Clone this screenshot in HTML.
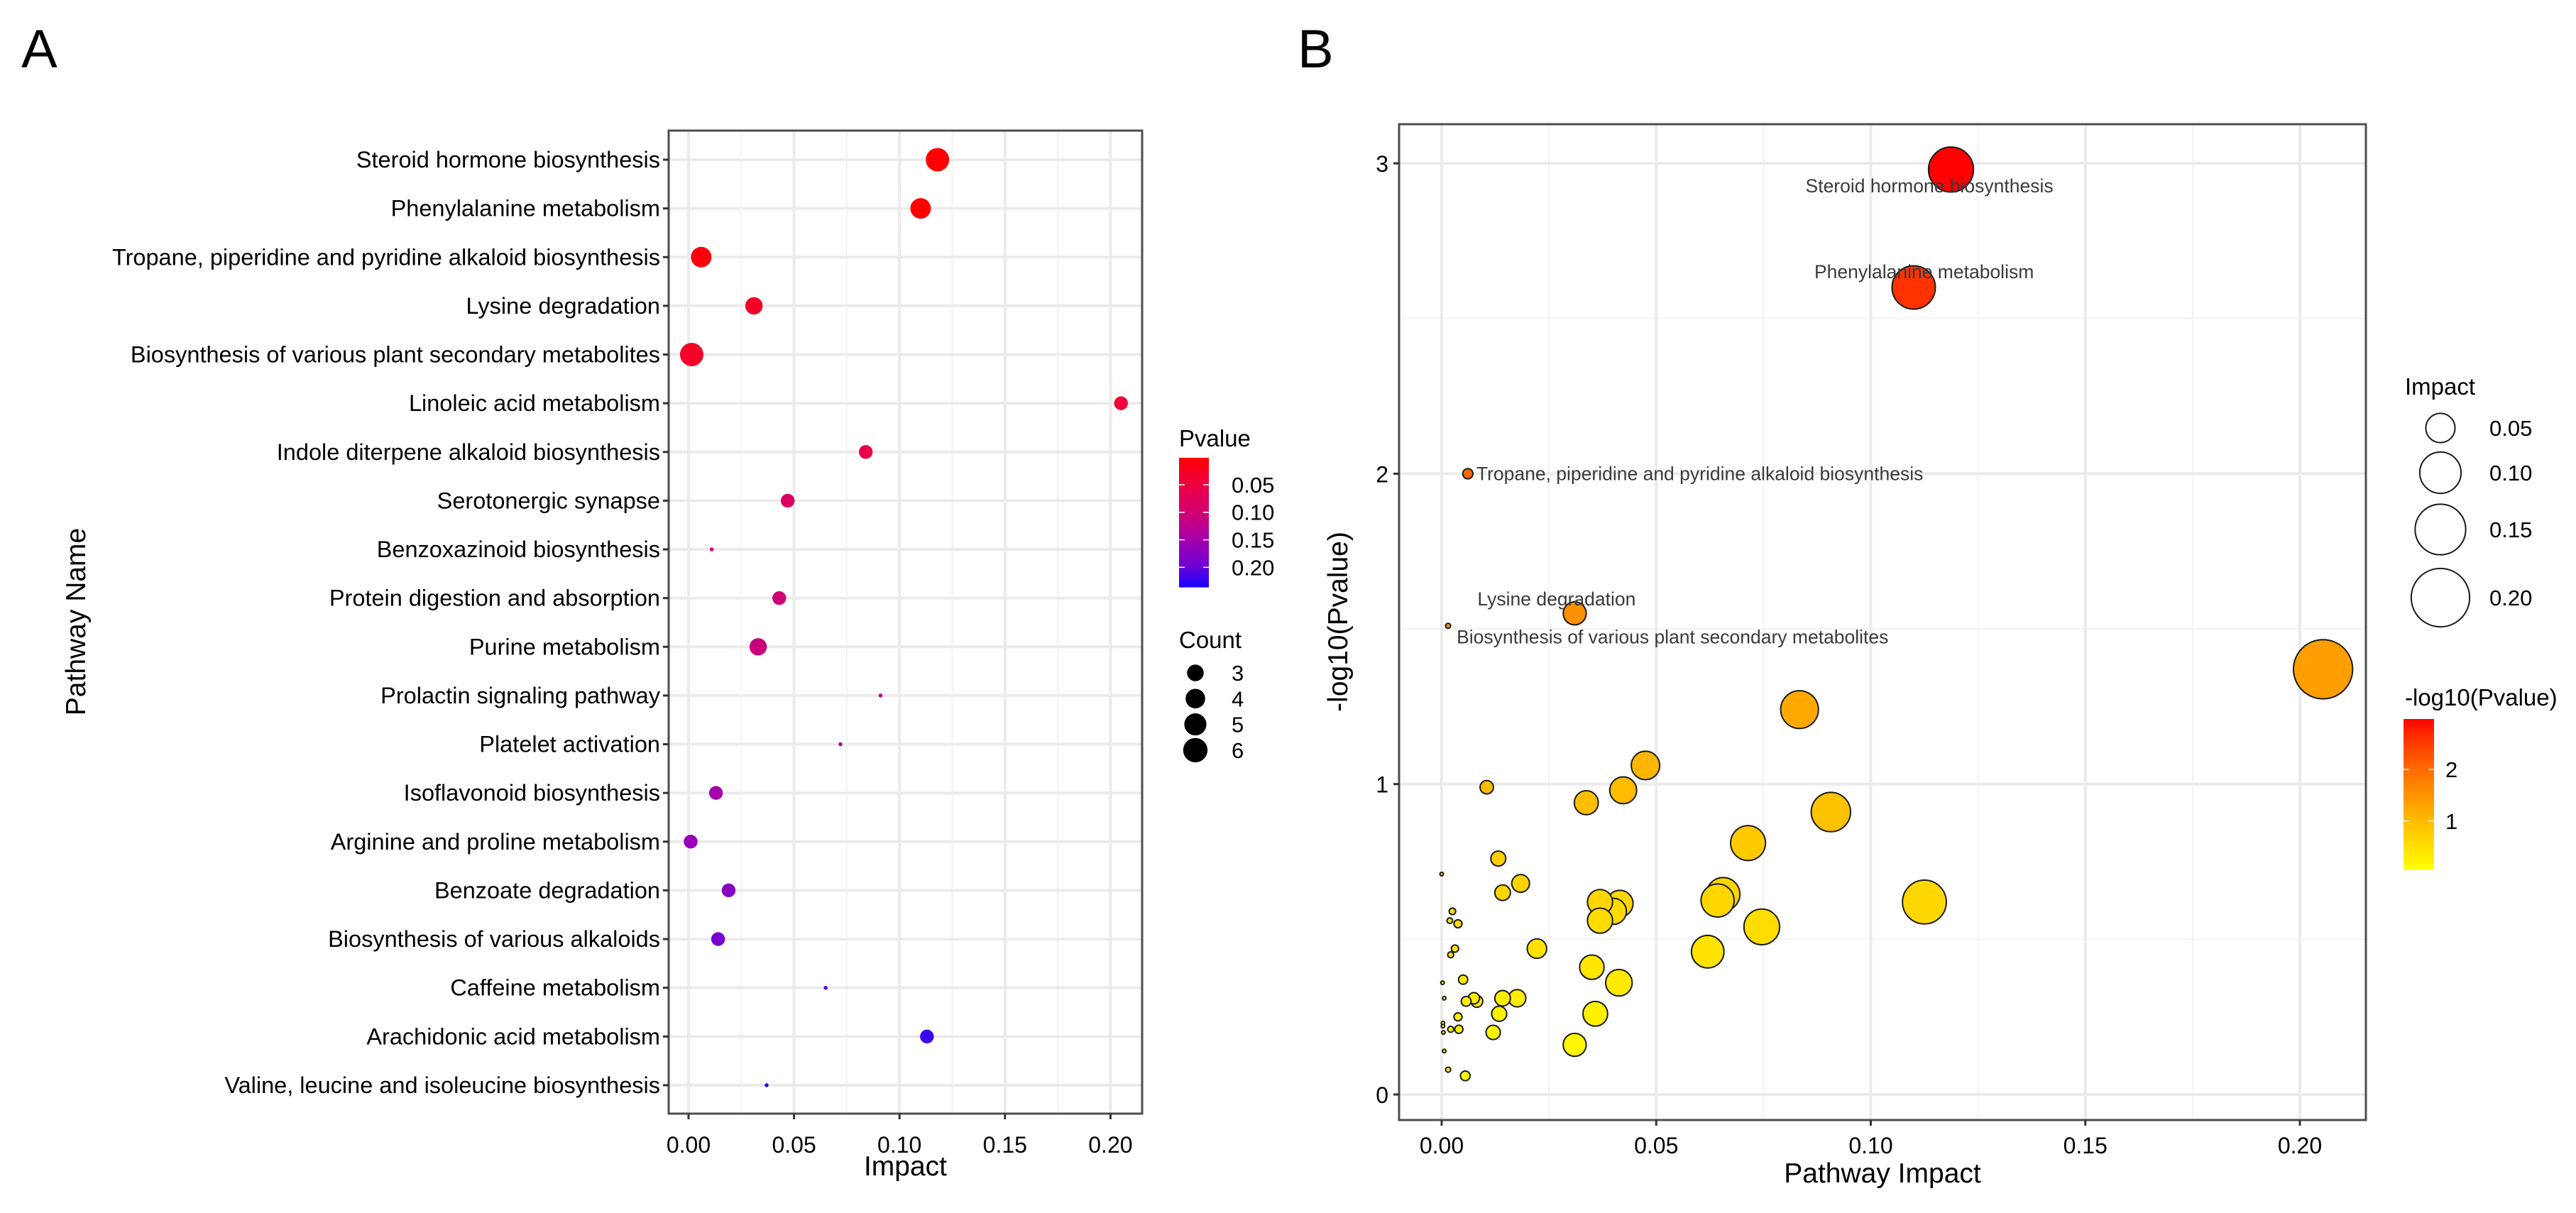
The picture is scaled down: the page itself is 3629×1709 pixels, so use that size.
<!DOCTYPE html>
<html><head><meta charset="utf-8"><style>
html,body{margin:0;padding:0;background:#fff;}
svg{display:block;font-family:"Liberation Sans",Arial,sans-serif;}
</style></head><body>
<svg id="fig" width="3629" height="1709" viewBox="0 0 3629 1709" xmlns="http://www.w3.org/2000/svg">
<rect width="3629" height="1709" fill="#fff"/>
<text x="30" y="95" font-size="76" fill="#000">A</text>
<text x="1828" y="95" font-size="76" fill="#000">B</text>
<g id="gA"></g>
<g id="gB"></g>
</svg>
<script>
// ---------- Panel A data ----------
const pathwaysA = ["Steroid hormone biosynthesis","Phenylalanine metabolism","Tropane, piperidine and pyridine alkaloid biosynthesis","Lysine degradation","Biosynthesis of various plant secondary metabolites","Linoleic acid metabolism","Indole diterpene alkaloid biosynthesis","Serotonergic synapse","Benzoxazinoid biosynthesis","Protein digestion and absorption","Purine metabolism","Prolactin signaling pathway","Platelet activation","Isoflavonoid biosynthesis","Arginine and proline metabolism","Benzoate degradation","Biosynthesis of various alkaloids","Caffeine metabolism","Arachidonic acid metabolism","Valine, leucine and isoleucine biosynthesis"];
const impactA = [0.118,0.110,0.006,0.031,0.0015,0.205,0.084,0.047,0.011,0.043,0.033,0.091,0.072,0.013,0.001,0.019,0.014,0.065,0.113,0.037];
const pvalueA = [0.00105,0.0025,0.0100,0.028,0.031,0.043,0.058,0.085,0.100,0.105,0.110,0.122,0.135,0.150,0.162,0.175,0.190,0.205,0.220,0.2357];
const countA = [6,5,5,4,6,3,3,3,1,3,4,1,1,3,3,3,3,1,3,1];
const xTicksA = [0,0.05,0.10,0.15,0.20];
const xTickLabelsA = ["0.00","0.05","0.10","0.15","0.20"];
const pLegendTicks = [0.05,0.10,0.15,0.20];
const pLegendLabels = ["0.05","0.10","0.15","0.20"];
const countLegend = [3,4,5,6];

// ---------- Panel B data ----------
const impactB = [0.1187,0.110,0.0061,0.031,0.0015,0.2054,0.0834,0.0475,0.0105,0.0337,0.0423,0.0907,0.0714,0.0132,0.0184,0.0142,0.0656,0.0643,0.0369,0.0415,0.040,0.0369,0.1125,0.0746,0.0,0.0025,0.0019,0.0038,0.0031,0.0021,0.0222,0.062,0.035,0.0413,0.005,0.0002,0.0082,0.0075,0.0057,0.0142,0.0176,0.0006,0.0358,0.0134,0.0038,0.0003,0.0003,0.0004,0.0021,0.004,0.012,0.031,0.0006,0.0015,0.0055];
const logpB = [2.98,2.60,2.00,1.55,1.51,1.37,1.24,1.06,0.99,0.94,0.98,0.91,0.81,0.76,0.68,0.65,0.645,0.625,0.62,0.615,0.59,0.56,0.62,0.54,0.71,0.59,0.56,0.55,0.47,0.45,0.47,0.46,0.41,0.36,0.37,0.36,0.30,0.31,0.30,0.31,0.31,0.31,0.26,0.26,0.25,0.23,0.22,0.20,0.21,0.21,0.20,0.16,0.14,0.08,0.06];
const labelsB = ["Steroid hormone biosynthesis","Phenylalanine metabolism","Tropane, piperidine and pyridine alkaloid biosynthesis","Lysine degradation","Biosynthesis of various plant secondary metabolites"];
const xTicksB = [0,0.05,0.10,0.15,0.20];
const xTickLabelsB = ["0.00","0.05","0.10","0.15","0.20"];
const yTicksB = [0,1,2,3];
const yTickLabelsB = ["0","1","2","3"];
const impactLegend = [0.05,0.10,0.15,0.20];
const impactLegendLabels = ["0.05","0.10","0.15","0.20"];
const logpLegendTicks = [1,2];
const logpLegendLabels = ["1","2"];

const NS = "http://www.w3.org/2000/svg";
function mk(parent, tag, attrs, txt){
  const e = document.createElementNS(NS, tag);
  for (const k in attrs) e.setAttribute(k, attrs[k]);
  if (txt !== undefined) e.textContent = txt;
  parent.appendChild(e);
  return e;
}
function hex(r,g,b){return "rgb("+Math.round(r)+","+Math.round(g)+","+Math.round(b)+")";}
const rbStops=[[0,255,0,0],[0.2,237,0,64],[0.42,210,0,112],[0.62,168,0,168],[0.83,112,0,213],[1,26,0,255]];
function redBlue(t){
  t=Math.max(0,Math.min(1,t));
  for(let i=1;i<rbStops.length;i++){ if(t<=rbStops[i][0]){const a=rbStops[i-1],b=rbStops[i];const f=(t-a[0])/(b[0]-a[0]);return hex(a[1]+(b[1]-a[1])*f,a[2]+(b[2]-a[2])*f,a[3]+(b[3]-a[3])*f);} }
  return hex(26,0,255);
}
function yellowRed(t){t=Math.max(0,Math.min(1,t));return hex(255,255*Math.pow(1-t,0.8),0);}

// ================= Panel A =================
(function(){
  const g=document.getElementById("gA");
  const L=942,R=1609,T=184,B=1569;
  const x=v=>970+v*2972;
  const y=i=>225+i*68.63;
  const pMin=Math.min(...pvalueA), pMax=Math.max(...pvalueA);
  const sz=c=>2.75*(1+5*(Math.sqrt(c)-1)/(Math.sqrt(6)-1));
  const grid=mk(g,"g",{});
  
  
  for(let v=0.025; v<0.22; v+=0.05) mk(grid,"line",{x1:x(v),x2:x(v),y1:T,y2:B,stroke:"#f3f3f3","stroke-width":2});
  xTicksA.forEach(v=>mk(grid,"line",{x1:x(v),x2:x(v),y1:T,y2:B,stroke:"#ebebeb","stroke-width":4}));
  pathwaysA.forEach((p,i)=>mk(grid,"line",{x1:L,x2:R,y1:y(i),y2:y(i),stroke:"#ebebeb","stroke-width":4}));
  mk(g,"rect",{x:L,y:T,width:R-L,height:B-T,fill:"none",stroke:"#4d4d4d","stroke-width":3});
  pathwaysA.forEach((p,i)=>{
    mk(g,"line",{x1:L-8,x2:L,y1:y(i),y2:y(i),stroke:"#333","stroke-width":3});
    const t=mk(g,"text",{x:L-12,y:y(i)+11,"text-anchor":"end","font-size":32.5,fill:"#000"},p);
    
    
  });
  xTicksA.forEach((v,i)=>{
    mk(g,"line",{x1:x(v),x2:x(v),y1:B,y2:B+8,stroke:"#333","stroke-width":3});
    const t=mk(g,"text",{x:x(v),y:B+55,"text-anchor":"middle","font-size":32,fill:"#000"},xTickLabelsA[i]);
    
    
  });
  const xt=mk(g,"text",{x:(L+R)/2,y:1656,"text-anchor":"middle","font-size":39,fill:"#000"},"Impact");
  
  
  const yt=mk(g,"text",{x:0,y:0,"text-anchor":"middle","font-size":39,fill:"#000",transform:"translate(120,876) rotate(-90)"},"Pathway Name");
  
  
  pathwaysA.forEach((p,i)=>{
    const c=mk(g,"circle",{cx:x(impactA[i]),cy:y(i),r:sz(countA[i]),fill:redBlue((pvalueA[i]-pMin)/(pMax-pMin))});
    
    
  });
  const lg=mk(g,"g",{});
  
  
  mk(lg,"text",{x:1661,y:629,"font-size":33,fill:"#000"},"Pvalue");
  const cbT=645,cbB=827,cbL=1661,cbR=1703;
  for(let k=0;k<60;k++){const t=k/60;mk(lg,"rect",{x:cbL,y:cbT+t*(cbB-cbT),width:cbR-cbL,height:(cbB-cbT)/60+0.6,fill:redBlue(t+0.5/60)});}
  pLegendTicks.forEach((v,i)=>{
    const yy=cbT+(v-pMin)/(pMax-pMin)*(cbB-cbT);
    mk(lg,"line",{x1:cbL,x2:cbL+8,y1:yy,y2:yy,stroke:"#fff","stroke-width":1.5});
    mk(lg,"line",{x1:cbR-8,x2:cbR,y1:yy,y2:yy,stroke:"#fff","stroke-width":1.5});
    mk(lg,"text",{x:1735,y:yy+11,"font-size":31,fill:"#000"},pLegendLabels[i]);
  });
  const cg=mk(g,"g",{});
  
  
  mk(cg,"text",{x:1661,y:913,"font-size":33,fill:"#000"},"Count");
  countLegend.forEach((c,i)=>{
    const yy=948+i*36.3;
    mk(cg,"circle",{cx:1684,cy:yy,r:sz(c)*0.8+4,fill:"#000"});
    mk(cg,"text",{x:1735,y:yy+11,"font-size":31,fill:"#000"},String(c));
  });
})();

// ================= Panel B =================
(function(){
  const g=document.getElementById("gB");
  const L=1971,R=3333,T=175,B=1578;
  const x=v=>2031+v*6045;
  const y=v=>1542-v*437.3;
  const lMin=Math.min(...logpB), lMax=Math.max(...logpB);
  const rad=v=>Math.max(2.5,92*Math.sqrt(v));
  const grid=mk(g,"g",{});
  
  
  for(let v=0.025; v<0.22; v+=0.05) mk(grid,"line",{x1:x(v),x2:x(v),y1:T,y2:B,stroke:"#f3f3f3","stroke-width":2});
  for(let v=0.5; v<3; v+=1) mk(grid,"line",{x1:L,x2:R,y1:y(v),y2:y(v),stroke:"#f3f3f3","stroke-width":2});
  xTicksB.forEach(v=>mk(grid,"line",{x1:x(v),x2:x(v),y1:T,y2:B,stroke:"#ebebeb","stroke-width":4}));
  yTicksB.forEach(v=>mk(grid,"line",{x1:L,x2:R,y1:y(v),y2:y(v),stroke:"#ebebeb","stroke-width":4}));
  mk(g,"rect",{x:L,y:T,width:R-L,height:B-T,fill:"none",stroke:"#4d4d4d","stroke-width":3});
  xTicksB.forEach((v,i)=>{
    mk(g,"line",{x1:x(v),x2:x(v),y1:B,y2:B+8,stroke:"#333","stroke-width":3});
    const t=mk(g,"text",{x:x(v),y:B+47,"text-anchor":"middle","font-size":32,fill:"#000"},xTickLabelsB[i]);
    
    
  });
  yTicksB.forEach((v,i)=>{
    mk(g,"line",{x1:L-8,x2:L,y1:y(v),y2:y(v),stroke:"#333","stroke-width":3});
    const t=mk(g,"text",{x:L-15,y:y(v)+12,"text-anchor":"end","font-size":32,fill:"#000"},yTickLabelsB[i]);
    
    
  });
  const xt=mk(g,"text",{x:(L+R)/2,y:1666,"text-anchor":"middle","font-size":39,fill:"#000"},"Pathway Impact");
  
  
  const yt=mk(g,"text",{x:0,y:0,"text-anchor":"middle","font-size":39,fill:"#000",transform:"translate(1898,876) rotate(-90)"},"-log10(Pvalue)");
  
  
  const order=impactB.map((v,i)=>i).sort((a,b)=>impactB[b]-impactB[a]);
  order.forEach(i=>{
    const c=mk(g,"circle",{cx:x(impactB[i]),cy:y(logpB[i]),r:rad(impactB[i]),fill:yellowRed((logpB[i]-lMin)/(lMax-lMin)),stroke:"#1a1a1a","stroke-width":2});
    
    
  });
  const ann=[[0,-205,23,"start"],[1,-140,-22,"start"],[2,12,0,"start"],[3,-137,-20,"start"],[4,12,16,"start"]];
  ann.forEach(a=>{
    const i=a[0];
    const t=mk(g,"text",{x:x(impactB[i])+a[1],y:y(logpB[i])+a[2]+9,"font-size":26.5,fill:"#3a3a3a","text-anchor":a[3]},labelsB[i]);
    
    
  });
  const sg=mk(g,"g",{});
  
  
  mk(sg,"text",{x:3388,y:556,"font-size":33,fill:"#000"},"Impact");
  const ly=[603,666,746,842];
  impactLegend.forEach((v,i)=>{
    mk(sg,"circle",{cx:3438,cy:ly[i],r:rad(v),fill:"none",stroke:"#1a1a1a","stroke-width":2});
    mk(sg,"text",{x:3507,y:ly[i]+11,"font-size":31,fill:"#000"},impactLegendLabels[i]);
  });
  const cg=mk(g,"g",{});
  
  
  mk(cg,"text",{x:3388,y:994,"font-size":33,fill:"#000"},"-log10(Pvalue)");
  const cbT=1013,cbB=1225,cbL=3386,cbR=3429;
  for(let k=0;k<60;k++){const t=k/60;mk(cg,"rect",{x:cbL,y:cbT+t*(cbB-cbT),width:cbR-cbL,height:(cbB-cbT)/60+0.6,fill:yellowRed(1-(t+0.5/60))});}
  logpLegendTicks.forEach((v,i)=>{
    const yy=cbT+(lMax-v)/(lMax-lMin)*(cbB-cbT);
    mk(cg,"line",{x1:cbL,x2:cbL+8,y1:yy,y2:yy,stroke:"#fff","stroke-width":1.5});
    mk(cg,"line",{x1:cbR-8,x2:cbR,y1:yy,y2:yy,stroke:"#fff","stroke-width":1.5});
    mk(cg,"text",{x:3445,y:yy+11,"font-size":31,fill:"#000"},logpLegendLabels[i]);
  });
})();
</script>
</body></html>
